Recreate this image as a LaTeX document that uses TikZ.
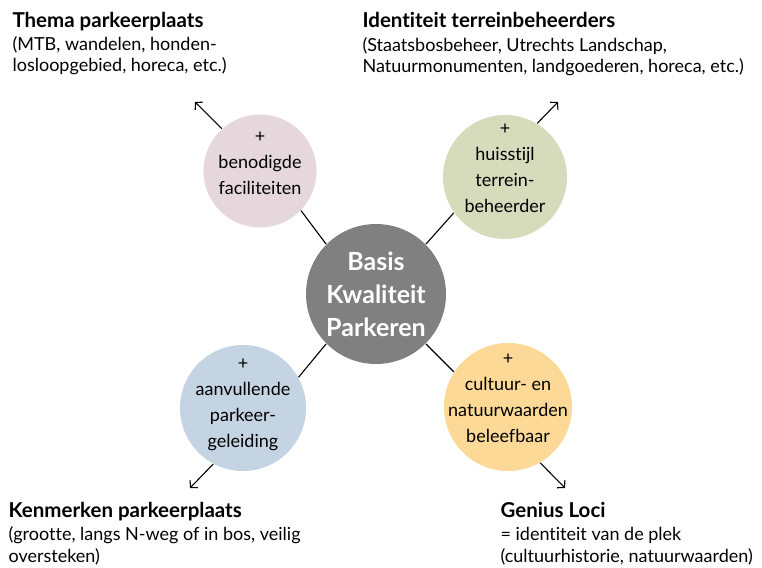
\documentclass[tikz,border=0pt]{standalone}
\usepackage{fontspec}
\setmainfont{Lato}[Ligatures=NoCommon]
\usepackage{tikz}
\usetikzlibrary{arrows.meta}
\definecolor{facilpink}{RGB}{229,215,220}
\definecolor{beheergreen}{RGB}{214,220,187}
\definecolor{leidingblue}{RGB}{197,212,227}
\definecolor{cultuurorange}{RGB}{252,217,150}
\definecolor{basisgray}{RGB}{128,128,128}

\begin{document}
\begin{tikzpicture}[x=1pt,y=-1pt,every path/.style={line width=1.1pt},>={Straight Barb[length=5pt,width=11pt]}]
  \tikzset{bubble/.style={circle,inner sep=0pt}};
  \tikzset{bubbletext/.style={align=center,inner sep=0pt,font=\fontsize{18}{26}\selectfont}};
  \tikzset{heading/.style={anchor=base west,inner sep=0pt,font=\fontsize{20.5}{22}\bfseries}};
  \tikzset{desc/.style={anchor=base west,align=left,inner sep=0pt,font=\fontsize{18}{21.5}\selectfont}};
  \useasboundingbox (0,0) rectangle (762,567);
  % circles
  \node[bubble,fill=basisgray,minimum size=140pt,align=center,text=white,font=\fontsize{25}{33}\bfseries] (basis) at (376,294) {Basis\\Kwaliteit\\Parkeren};
  \node[bubble,fill=facilpink,minimum size=113pt] (facil) at (260,171) {};
  \node[bubble,fill=beheergreen,minimum size=124pt] (beheer) at (505,177) {};
  \node[bubble,fill=leidingblue,minimum size=126pt] (leiding) at (243,408) {};
  \node[bubble,fill=cultuurorange,minimum size=128pt] (cultuur) at (508,407) {};
  \node[bubbletext] at ([yshift=8pt]facil.center) {+\\benodigde\\faciliteiten};
  \node[bubbletext] at ([yshift=9pt]beheer.center) {+\\huisstijl\\terrein-\\beheerder};
  \node[bubbletext] at ([yshift=3pt]leiding.center) {+\\aanvullende\\parkeer-\\geleiding};
  \node[bubbletext] at ([yshift=9pt]cultuur.center) {+\\cultuur- en\\natuurwaarden\\beleefbaar};
  % connectors
  \draw (facil.-44) -- (basis.135);
  \draw (beheer.215) -- (basis.45);
  \draw (leiding.29) -- (basis.225);
  \draw (cultuur.147) -- (basis.-45);
  \coordinate (themapt) at (195,102);
  \coordinate (identpt) at (558,102);
  \coordinate (kenmerkpt) at (190,488);
  \coordinate (geniuspt) at (565,488);
  \draw[->] (facil.132) -- (themapt);
  \draw[->] (beheer.59) -- (identpt);
  \draw[->] (leiding.242) -- (kenmerkpt);
  \draw[->] (cultuur.300) -- (geniuspt);
  % texts (desc nodes sit on their last baseline)
  \node[heading] (themahead) at (12,28) {Thema parkeerplaats};
  \node[desc] (themadesc) at (12,72) {(MTB, wandelen, honden-\\losloopgebied, horeca, etc.)};
  \node[heading] (identhead) at (362,28) {Identiteit terreinbeheerders};
  \node[desc] (identdesc) at (362,73) {(Staatsbosbeheer, Utrechts Landschap,\\Natuurmonumenten, landgoederen, horeca, etc.)};
  \node[heading] (kenmerkhead) at (8,517) {Kenmerken parkeerplaats};
  \node[desc] (kenmerkdesc) at (8,562) {(grootte, langs N-weg of in bos, veilig\\oversteken)};
  \node[heading] (geniushead) at (500,517) {Genius Loci};
  \node[desc] (geniusdesc) at (500,562) {= identiteit van de plek\\(cultuurhistorie, natuurwaarden)};
\end{tikzpicture}
\end{document}
